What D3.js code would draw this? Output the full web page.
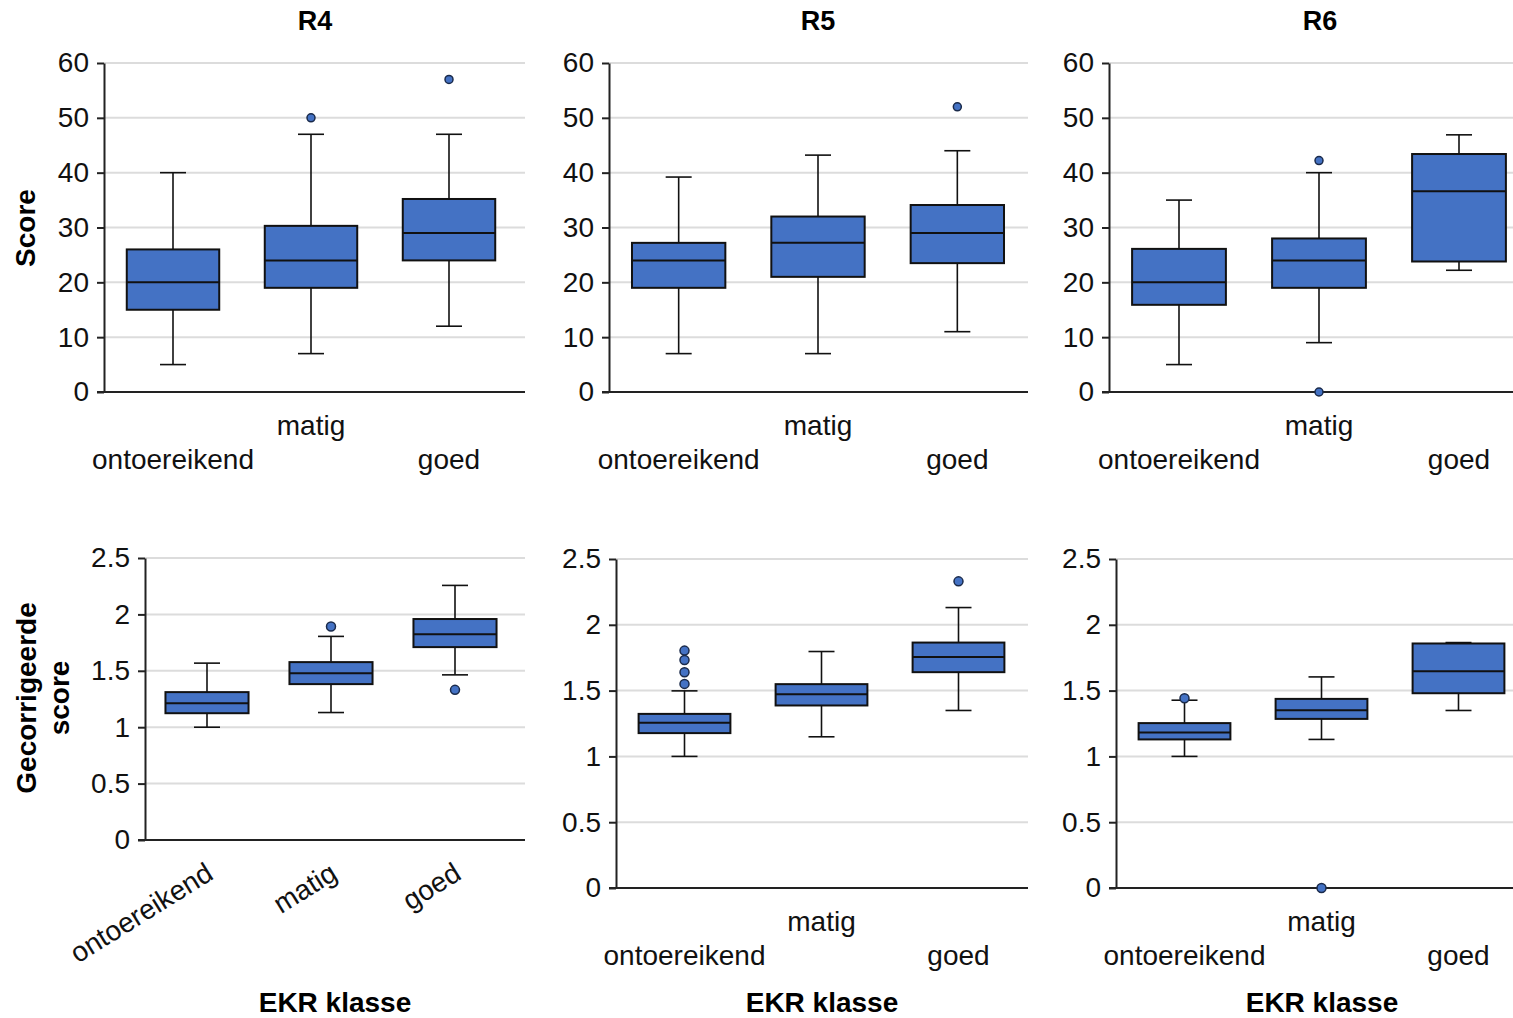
<!DOCTYPE html>
<html>
<head>
<meta charset="utf-8">
<script src="https://cdn.jsdelivr.net/npm/d3@7"></script>
<style>
  body { margin: 0; background: #fff; }
  svg { display: block; font-family: "Liberation Sans", Arial, sans-serif; }
</style>
</head>
<body>
<svg id="chart" width="1513" height="1018"></svg>
<script>
// categories and ticks
const categories = ["ontoereikend", "matig", "goed"];
const regionTitles = ["R4", "R5", "R6"];
const scoreTicks = [0, 10, 20, 30, 40, 50, 60];
const corrTicks = [0, 0.5, 1, 1.5, 2, 2.5];

// box stats per category: [lower whisker, Q1, median, Q3, upper whisker]
const scoreR4 = [[5, 15, 20, 26, 40], [7, 19, 24, 30.3, 47], [12, 24, 29, 35.2, 47]];
const scoreR4Out = [[], [50], [57]];
const scoreR5 = [[7, 19, 24, 27.2, 39.2], [7, 21, 27.2, 32, 43.2], [11, 23.5, 29, 34.1, 44]];
const scoreR5Out = [[], [], [52]];
const scoreR6 = [[5, 15.9, 20, 26.1, 35], [9, 19, 24, 28, 40], [22.2, 23.8, 36.6, 43.4, 46.9]];
const scoreR6Out = [[], [42.2, 0], []];

const corrR4 = [[1.0, 1.124, 1.213, 1.311, 1.568], [1.13, 1.382, 1.479, 1.577, 1.805], [1.464, 1.71, 1.825, 1.959, 2.257]];
const corrR4Out = [[], [1.893], [1.331]];
const corrR5 = [[1.0, 1.177, 1.255, 1.323, 1.498], [1.149, 1.387, 1.473, 1.549, 1.797], [1.349, 1.64, 1.756, 1.865, 2.131]];
const corrR5Out = [[1.804, 1.733, 1.64, 1.551], [], [2.33]];
const corrR6 = [[1.0, 1.129, 1.182, 1.253, 1.427], [1.129, 1.285, 1.351, 1.437, 1.604], [1.349, 1.48, 1.647, 1.858, 1.865]];
const corrR6Out = [[1.442], [0], []];

const svg = d3.select("#chart");
const blue = "#4472C4";

// panel layout
const panels = [
  {stats: scoreR4, out: scoreR4Out, ticks: scoreTicks, max: 60, xr: [104, 518], yr: [392, 63], end: 525, labels: "stagger", r: 4},
  {stats: scoreR5, out: scoreR5Out, ticks: scoreTicks, max: 60, xr: [609, 1027], yr: [392, 63], end: 1028, labels: "stagger", r: 4},
  {stats: scoreR6, out: scoreR6Out, ticks: scoreTicks, max: 60, xr: [1109, 1529], yr: [392, 63], end: 1513, labels: "stagger", r: 4},
  {stats: corrR4, out: corrR4Out, ticks: corrTicks, max: 2.5, xr: [145, 517], yr: [840, 558], end: 525, labels: "rotate", r: 4.5},
  {stats: corrR5, out: corrR5Out, ticks: corrTicks, max: 2.5, xr: [616, 1027], yr: [888, 559], end: 1028, labels: "stagger", r: 4.5},
  {stats: corrR6, out: corrR6Out, ticks: corrTicks, max: 2.5, xr: [1116, 1527], yr: [888, 559], end: 1513, labels: "stagger", r: 4.5}
];

panels.forEach(p => {
  const g = svg.append("g");
  const x = d3.scaleBand().domain(categories).range(p.xr).paddingInner(0.33).paddingOuter(0.165);
  const y = d3.scaleLinear().domain([0, p.max]).range(p.yr);
  const x0 = p.xr[0];

  // gridlines
  g.selectAll(".grid").data(p.ticks.filter(t => t > 0)).join("line")
    .attr("x1", x0).attr("x2", p.end)
    .attr("y1", d => y(d)).attr("y2", d => y(d))
    .attr("stroke", "#dcdcdc").attr("stroke-width", 2);

  // y axis
  const ay = g.append("g").attr("transform", `translate(${x0},0)`)
    .call(d3.axisLeft(y).tickValues(p.ticks).tickSize(7).tickSizeOuter(0).tickPadding(8).tickFormat(d3.format("")));
  ay.select(".domain").attr("stroke", "#222").attr("stroke-width", 2);
  ay.selectAll(".tick line").attr("stroke", "#222").attr("stroke-width", 2);
  ay.selectAll(".tick text").attr("font-size", 28).attr("fill", "#111").attr("font-family", "Liberation Sans, Arial, sans-serif");

  // x axis line
  g.append("line").attr("x1", x0 - 7).attr("x2", p.end).attr("y1", y(0)).attr("y2", y(0))
    .attr("stroke", "#222").attr("stroke-width", 2);

  const bw = x.bandwidth();
  const cap = 26;
  const boxes = g.selectAll(".box").data(p.stats).join("g")
    .attr("transform", (d, i) => `translate(${x(categories[i]) + bw / 2},0)`);

  boxes.append("line").attr("x1", 0).attr("x2", 0).attr("y1", d => y(d[0])).attr("y2", d => y(d[4]))
    .attr("stroke", "#111").attr("stroke-width", 1.6);
  boxes.append("line").attr("x1", -cap / 2).attr("x2", cap / 2).attr("y1", d => y(d[0])).attr("y2", d => y(d[0]))
    .attr("stroke", "#111").attr("stroke-width", 1.6);
  boxes.append("line").attr("x1", -cap / 2).attr("x2", cap / 2).attr("y1", d => y(d[4])).attr("y2", d => y(d[4]))
    .attr("stroke", "#111").attr("stroke-width", 1.6);
  boxes.append("rect").attr("x", -bw / 2).attr("width", bw)
    .attr("y", d => y(d[3])).attr("height", d => y(d[1]) - y(d[3]))
    .attr("fill", blue).attr("stroke", "#111").attr("stroke-width", 2);
  boxes.append("line").attr("x1", -bw / 2).attr("x2", bw / 2).attr("y1", d => y(d[2])).attr("y2", d => y(d[2]))
    .attr("stroke", "#111").attr("stroke-width", 2);

  // outliers
  boxes.each(function(d, i) {
    d3.select(this).selectAll("circle").data(p.out[i]).join("circle")
      .attr("cx", 0).attr("cy", v => y(v)).attr("r", p.r)
      .attr("fill", blue).attr("stroke", "#1a2a4a").attr("stroke-width", 1.5);
  });

  // category labels
  if (p.labels === "stagger") {
    g.selectAll(".lab").data(categories).join("text")
      .attr("x", d => x(d) + bw / 2)
      .attr("y", (d, i) => y(0) + (i === 1 ? 43 : 77))
      .attr("text-anchor", "middle").attr("font-size", 28).attr("fill", "#111")
      .text(d => d);
  } else {
    g.selectAll(".lab").data(categories).join("text")
      .attr("text-anchor", "end").attr("font-size", 28).attr("fill", "#111")
      .attr("transform", d => `translate(${x(d) + bw / 2 + 8},${y(0) + 38}) rotate(-32)`)
      .text(d => d);
  }
});

// panel titles
const titleX = [315, 818, 1320];
regionTitles.forEach((t, i) => {
  svg.append("text").attr("x", titleX[i]).attr("y", 30).attr("text-anchor", "middle")
    .attr("font-size", 27).attr("font-weight", "bold").text(t);
});

const ekrX = [335, 822, 1322];
ekrX.forEach(cx => {
  svg.append("text").attr("x", cx).attr("y", 1012).attr("text-anchor", "middle")
    .attr("font-size", 28).attr("font-weight", "bold").text("EKR klasse");
});

svg.append("text").attr("transform", "translate(35,228) rotate(-90)").attr("text-anchor", "middle")
  .attr("font-size", 28).attr("font-weight", "bold").text("Score");
svg.append("text").attr("transform", "translate(36,698) rotate(-90)").attr("text-anchor", "middle")
  .attr("font-size", 28).attr("font-weight", "bold").text("Gecorrigeerde");
svg.append("text").attr("transform", "translate(69,698) rotate(-90)").attr("text-anchor", "middle")
  .attr("font-size", 28).attr("font-weight", "bold").text("score");
</script>
</body>
</html>
